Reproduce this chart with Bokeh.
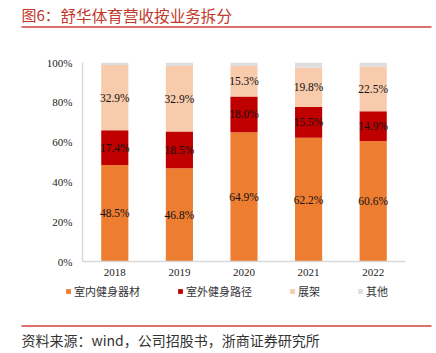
from bokeh.plotting import figure
from bokeh.models import (ColumnDataSource, FactorRange, Range1d, FixedTicker,
                          PrintfTickFormatter, Legend, LegendItem)
from bokeh.embed import file_html
from bokeh.resources import INLINE
from bokeh.core.properties import value

years = ["2018", "2019", "2020", "2021", "2022"]
indoor = [48.5, 46.8, 64.9, 62.2, 60.6]
outdoor = [17.4, 18.5, 18.0, 15.5, 14.9]
display = [32.9, 32.9, 15.3, 19.8, 22.5]
other = [1.2, 1.8, 1.8, 2.5, 2.0]
series_names = ["室内健身器材", "室外健身路径", "展架", "其他"]
colors = ["#ED7D31", "#C00000", "#F8CBAD", "#DEDEDE"]
y_ticks = [0, 20, 40, 60, 80, 100]
title_head = "图6："
title_body = "舒华体育营收按业务拆分"
source_text = "资料来源：wind，公司招股书，浙商证券研究所"

W = 436
RED_LINE = "#D0403A"

keys = ["indoor", "outdoor", "display", "other"]
src = ColumnDataSource(dict(year=years, indoor=indoor, outdoor=outdoor,
                            display=display, other=other))

# label positions (segment middles) from the stacked data
lx, ly, lt = [], [], []
series_vals = [indoor, outdoor, display]
for j, yr in enumerate(years):
    bottom = 0.0
    for s in series_vals:
        v = s[j]
        lx.append(yr)
        ly.append(bottom + v / 2.0)
        lt.append(f"{v:.1f}%")
        bottom += v
lsrc = ColumnDataSource(dict(x=lx, y=ly, t=lt))


def deco_fig(h):
    f = figure(width=W, height=h, x_range=Range1d(0, W), y_range=Range1d(h, 0),
               x_axis_type=None, y_axis_type=None, min_border=0,
               output_backend="svg", toolbar_location=None,
               background_fill_color="white", border_fill_color="white")
    f.outline_line_color = None
    f.xgrid.grid_line_color = None
    f.ygrid.grid_line_color = None
    return f


# ---- title block
tf = deco_fig(32)
tf.text(x=[21], y=[14], text=[title_head], text_baseline="middle",
        text_font=value("Noto Sans CJK SC"), text_font_size="15px",
        text_color="#C0392B")
tf.text(x=[60], y=[14], text=[title_body], text_baseline="middle",
        text_font=value("Noto Sans CJK SC"), text_font_size="15.6px",
        text_color="#C0392B")
tf.segment(x0=[21], y0=[26.5], x1=[431], y1=[26.5], line_color=RED_LINE,
           line_width=1.5)

# ---- main chart
p = figure(x_range=FactorRange(factors=years), y_range=Range1d(0, 100),
           frame_width=323, frame_height=199,
           min_border_left=82, min_border_right=31, min_border_top=30,
           min_border_bottom=21,
           output_backend="svg", toolbar_location=None,
           background_fill_color="white", border_fill_color="white")
p.outline_line_color = None
p.xgrid.grid_line_color = None
p.ygrid.grid_line_color = None

rs = p.vbar_stack(keys, x="year", width=0.42, color=colors, source=src,
                  line_color=None)

p.text(x="x", y="y", text="t", source=lsrc, text_align="center",
       text_baseline="middle", text_font=value("Liberation Serif"),
       text_font_size="11.5px", text_color="#111111")

p.yaxis.ticker = FixedTicker(ticks=y_ticks)
p.yaxis.formatter = PrintfTickFormatter(format="%d%%")
for ax in (p.xaxis[0], p.yaxis[0]):
    ax.axis_line_color = "#D9D9D9"
    ax.axis_line_width = 1.5
    ax.major_tick_line_color = None
    ax.minor_tick_line_color = None
    ax.major_tick_out = 0
    ax.major_tick_in = 0
    ax.major_label_text_font = "Liberation Serif"
    ax.major_label_text_font_size = "11px"
    ax.major_label_text_color = "#222222"
p.yaxis.major_label_standoff = 10
p.xaxis.major_label_standoff = 7

# ---- legend + source block (independent figure so it can span the page)
sf = deco_fig(71)
# legend-key renderers: an empty, zero-height row each; only the swatch shows
swatch_src = ColumnDataSource(dict(x=[-1000.0], top=[0.0]))
swatches = [sf.vbar(x="x", top="top", width=1, source=swatch_src,
                    color=c, line_color=None) for c in colors]
items = [LegendItem(label=n, renderers=[r])
         for n, r in zip(series_names, swatches)]
legend = Legend(items=items, orientation="horizontal", location=(65, 54),
                glyph_width=6, glyph_height=6, label_standoff=3, spacing=37,
                padding=2, margin=0, border_line_color=None,
                background_fill_alpha=0, label_text_font_size="11px",
                label_text_font="Noto Sans CJK SC", label_height=12,
                label_text_color="#333333")
sf.add_layout(legend, "center")
sf.segment(x0=[21], y0=[43.5], x1=[431], y1=[43.5], line_color=RED_LINE,
           line_width=1.5)
sf.text(x=[21], y=[57], text=[source_text], text_baseline="middle",
        text_font=value("Noto Sans CJK SC"), text_font_size="14px",
        text_color="#333333")

open("out.html", "w").write(file_html([tf, p, sf], INLINE))
